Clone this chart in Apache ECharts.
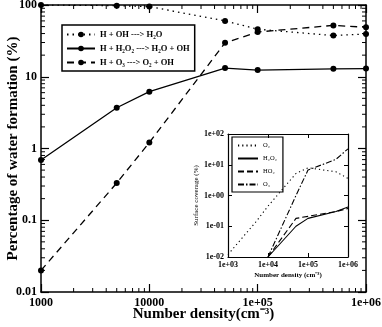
<!DOCTYPE html>
<html>
<head>
<meta charset="utf-8">
<script src="https://cdn.jsdelivr.net/npm/echarts@6/dist/echarts.min.js"></script>
<style>
html,body{margin:0;padding:0;background:#fff;}
#chart{width:382px;height:327px;}
</style>
</head>
<body>
<div id="chart"></div>
<script>
// main plot: percentage of water formation
var density = [1000, 5000, 10000, 50000, 100000, 500000, 1000000];
var ohWater = [100, 98, 95, 60, 46, 37.5, 39.5];
var h2o2Water = [0.69, 3.7, 6.2, 13.2, 12.4, 12.9, 13];
var o3Water = [0.02, 0.33, 1.21, 29.7, 42, 52, 49];
var mainNames = ['H + OH ---> H₂O', 'H + H₂O₂ ---> H₂O + OH', 'H + O₃ ---> O₂ + OH'];
var xTickLabels = ['1000', '10000', '1e+05', '1e+06'];
var yTickLabels = ['0.01', '0.1', '1', '10', '100'];

// inset: surface coverage
var insetDensity = [1000, 5000, 10000, 50000, 100000, 500000, 1000000];
var o2Cov = [0.012, 0.14, 0.45, 5.2, 8, 5.9, 3.6];
var h2o2Cov = [null, null, 0.01, 0.1, 0.18, 0.3, 0.42];
var ho2Cov = [null, null, 0.01, 0.18, 0.21, 0.3, 0.38];
var o3Cov = [null, null, 0.01, 1.0, 6.7, 15, 33];
var insetNames = ['O₂', 'H₂O₂', 'HO₂', 'O₃'];
var insetXLabels = ['1e+03', '1e+04', '1e+05', '1e+06'];
var insetYLabels = ['1e-02', '1e-01', '1e+00', '1e+01', '1e+02'];

var FONT = 'Liberation Serif';

function pairs(xs, ys) {
  return xs.map(function (x, i) { return [x, ys[i]]; });
}

// minor tick positions (2..9 in each decade)
var minorX = [], minorY = [];
for (var e = 3; e < 6; e++) {
  for (var k = 2; k < 10; k++) minorX.push([k * Math.pow(10, e), 1]);
}
for (var e2 = -2; e2 < 2; e2++) {
  for (var k2 = 2; k2 < 10; k2++) minorY.push([2000, +(k2 * Math.pow(10, e2)).toPrecision(3)]);
}

function tickLine(x1, y1, x2, y2) {
  return { type: 'line', shape: { x1: x1, y1: y1, x2: x2, y2: y2 }, style: { stroke: '#000', lineWidth: 1 } };
}

var chart = echarts.init(document.getElementById('chart'));

var axisBase = {
  axisLine: { lineStyle: { color: '#000', width: 1.5 } },
  axisTick: { inside: true, length: 8, lineStyle: { color: '#000', width: 1.2 } },
  splitLine: { show: false },
  nameMoveOverlap: false
};
function mk(extra) {
  return Object.assign({}, JSON.parse(JSON.stringify(axisBase)), extra);
}
var bold12 = { color: '#000', fontFamily: FONT, fontWeight: 'bold', fontSize: 12 };
var insetLbl = { color: '#000', fontFamily: FONT, fontWeight: 'bold', fontSize: 8 };
var insetAxis = {
  axisLine: { lineStyle: { color: '#000', width: 1.2 } },
  axisTick: { inside: true, length: 4, lineStyle: { color: '#000', width: 1 } },
  splitLine: { show: false },
  nameMoveOverlap: false
};
function mkIn(extra) {
  return Object.assign({}, JSON.parse(JSON.stringify(insetAxis)), extra);
}
function decade(v) { return Math.round(Math.log(v) / Math.LN10); }

chart.setOption({
  animation: false,
  backgroundColor: '#fff',
  grid: [
    { left: 41, right: 16, top: 5, bottom: 35, containLabel: false, outerBoundsMode: 'none' },
    { left: 228, right: 34, top: 134, bottom: 70, containLabel: false, outerBoundsMode: 'none' }
  ],
  legend: [{
    data: mainNames,
    orient: 'vertical',
    left: 62, top: 25,
    itemWidth: 28, itemHeight: 7, itemGap: 5,
    padding: [5, 5, 4, 4],
    borderColor: '#000', borderWidth: 1.5,
    textStyle: { color: '#000', fontFamily: FONT, fontWeight: 'bold', fontSize: 8.5 }
  }, {
    data: insetNames,
    orient: 'vertical',
    left: 232, top: 137,
    itemWidth: 20, itemHeight: 6, itemGap: 6,
    padding: [5, 6, 4, 5],
    borderColor: '#000', borderWidth: 1.2,
    itemStyle: { opacity: 0 },
    textStyle: { color: '#000', fontFamily: FONT, fontSize: 6.5 }
  }],
  xAxis: [
    mk({ gridIndex: 0, type: 'log', min: 1000, max: 1000000, position: 'bottom',
      axisLabel: Object.assign({ margin: 5, formatter: function (v) { return xTickLabels[decade(v) - 3]; } }, bold12),
      name: 'Number density(cm⁻³)', nameLocation: 'middle', nameGap: 15,
      nameTextStyle: { color: '#000', fontFamily: FONT, fontWeight: 'bold', fontSize: 15 } }),
    mk({ gridIndex: 0, type: 'log', min: 1000, max: 1000000, position: 'top', axisLabel: { show: false } }),
    mkIn({ gridIndex: 1, type: 'log', min: 1000, max: 1000000, position: 'bottom',
      axisLabel: Object.assign({ margin: 4, formatter: function (v) { return insetXLabels[decade(v) - 3]; } }, insetLbl),
      name: 'Number density (cm⁻³)', nameLocation: 'middle', nameGap: 15,
      nameTextStyle: { color: '#000', fontFamily: FONT, fontWeight: 'bold', fontSize: 7 } }),
    mkIn({ gridIndex: 1, type: 'log', min: 1000, max: 1000000, position: 'top', axisLabel: { show: false } })
  ],
  yAxis: [
    mk({ gridIndex: 0, type: 'log', min: 0.01, max: 100, position: 'left',
      axisLabel: Object.assign({ margin: 4, formatter: function (v) { return yTickLabels[decade(v) + 2]; } }, bold12),
      name: 'Percentage of water formation (%)', nameLocation: 'middle', nameGap: 20,
      nameTextStyle: { color: '#000', fontFamily: FONT, fontWeight: 'bold', fontSize: 15 } }),
    mk({ gridIndex: 0, type: 'log', min: 0.01, max: 100, position: 'right', axisLabel: { show: false } }),
    mkIn({ gridIndex: 1, type: 'log', min: 0.01, max: 100, position: 'left',
      axisLabel: Object.assign({ margin: 4, formatter: function (v) { return insetYLabels[decade(v) + 2]; } }, insetLbl),
      name: 'Surface coverage (%)', nameLocation: 'middle', nameGap: 28,
      nameTextStyle: { color: '#000', fontFamily: FONT, fontSize: 7 } }),
    mkIn({ gridIndex: 1, type: 'log', min: 0.01, max: 100, position: 'right', axisLabel: { show: false } })
  ],
  series: [
    { name: mainNames[0], type: 'line', xAxisIndex: 0, yAxisIndex: 0, data: pairs(density, ohWater),
      symbol: 'circle', symbolSize: 6, color: '#000',
      lineStyle: { color: '#000', width: 1.3, type: [1.5, 4] }, itemStyle: { color: '#000' } },
    { name: mainNames[1], type: 'line', xAxisIndex: 0, yAxisIndex: 0, data: pairs(density, h2o2Water),
      symbol: 'circle', symbolSize: 6, color: '#000',
      lineStyle: { color: '#000', width: 1.3, type: 'solid' }, itemStyle: { color: '#000' } },
    { name: mainNames[2], type: 'line', xAxisIndex: 0, yAxisIndex: 0, data: pairs(density, o3Water),
      symbol: 'circle', symbolSize: 6, color: '#000',
      lineStyle: { color: '#000', width: 1.3, type: [7, 5] }, itemStyle: { color: '#000' } },

    { name: insetNames[0], type: 'line', xAxisIndex: 2, yAxisIndex: 2, data: pairs(insetDensity, o2Cov),
      symbol: 'none', color: '#000', lineStyle: { color: '#000', width: 1.1, type: [1.2, 3] } },
    { name: insetNames[1], type: 'line', xAxisIndex: 2, yAxisIndex: 2, data: pairs(insetDensity, h2o2Cov),
      symbol: 'none', color: '#000', lineStyle: { color: '#000', width: 1.1, type: 'solid' } },
    { name: insetNames[2], type: 'line', xAxisIndex: 2, yAxisIndex: 2, data: pairs(insetDensity, ho2Cov),
      symbol: 'none', color: '#000', lineStyle: { color: '#000', width: 1.1, type: [6, 3] } },
    { name: insetNames[3], type: 'line', xAxisIndex: 2, yAxisIndex: 2, data: pairs(insetDensity, o3Cov),
      symbol: 'none', color: '#000', lineStyle: { color: '#000', width: 1.1, type: [6, 2, 1.5, 2] } },

    // minor ticks on the main frame
    { type: 'custom', xAxisIndex: 0, yAxisIndex: 0, data: minorX, clip: false, silent: true,
      renderItem: function (params, api) {
        var b = api.coord([api.value(0), 0.01]);
        var t = api.coord([api.value(0), 100]);
        return { type: 'group', children: [tickLine(b[0], b[1], b[0], b[1] - 4), tickLine(t[0], t[1], t[0], t[1] + 4)] };
      } },
    { type: 'custom', xAxisIndex: 0, yAxisIndex: 0, data: minorY, clip: false, silent: true,
      renderItem: function (params, api) {
        var l = api.coord([1000, api.value(1)]);
        var r = api.coord([1000000, api.value(1)]);
        return { type: 'group', children: [tickLine(l[0], l[1], l[0] + 4, l[1]), tickLine(r[0], r[1], r[0] - 4, r[1])] };
      } }
  ]
});
</script>
</body>
</html>
